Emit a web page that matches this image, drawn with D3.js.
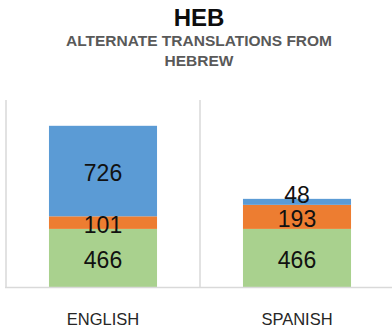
<!DOCTYPE html>
<html>
<head>
<meta charset="utf-8">
<script src="https://cdn.jsdelivr.net/npm/d3@7"></script>
<style>
  html, body { margin: 0; padding: 0; background: #fff; }
  svg { display: block; font-family: "Liberation Sans", Arial, sans-serif; }
</style>
</head>
<body>
<svg id="chart" width="392" height="333"></svg>
<script>
// Categories and stacked series (bottom to top)
const categories = ["ENGLISH", "SPANISH"];
const seriesNames = ["base", "middle", "top"];
const baseValues = [466, 466];
const middleValues = [101, 193];
const topValues = [726, 48];
const seriesColors = ["#A9D18E", "#ED7D31", "#5B9BD5"];
const yMax = 1500;

const titleText = "HEB";
const subtitleLines = ["ALTERNATE TRANSLATIONS FROM", "HEBREW"];

const rows = categories.map((c, i) => ({
  category: c,
  base: baseValues[i],
  middle: middleValues[i],
  top: topValues[i]
}));

const svg = d3.select("#chart");
const plot = { left: 6, right: 394, top: 100, bottom: 287 };

// Titles
svg.append("text")
  .attr("x", 199).attr("y", 26)
  .attr("text-anchor", "middle")
  .attr("font-size", 24).attr("font-weight", "bold")
  .attr("fill", "#0d0d0d")
  .text(titleText);

subtitleLines.forEach((line, i) => {
  svg.append("text")
    .attr("x", 199).attr("y", 46 + i * 20)
    .attr("text-anchor", "middle")
    .attr("font-size", 15.5).attr("font-weight", "bold")
    .attr("fill", "#595959")
    .text(line);
});

// Scales
const xOuter = d3.scaleBand().domain(categories).range([plot.left, plot.right]).padding(0);
const x = d3.scaleBand().domain(categories).range([plot.left, plot.right])
  .paddingInner(0.443).paddingOuter(0.2215);
const y = d3.scaleLinear().domain([0, yMax]).range([plot.bottom, plot.top]);

// Category separators (left axis line and divider between categories)
const separators = categories.map(c => xOuter(c));
svg.append("g").selectAll("line").data(separators).join("line")
  .attr("x1", d => d).attr("x2", d => d)
  .attr("y1", plot.top).attr("y2", plot.bottom)
  .attr("stroke", "#D9D9D9").attr("stroke-width", 1.5);

// Stacked bars
const stack = d3.stack().keys(seriesNames);
const layers = stack(rows);

const gBars = svg.append("g");
layers.forEach((layer, li) => {
  gBars.append("g").attr("fill", seriesColors[li])
    .selectAll("rect").data(layer).join("rect")
    .attr("x", d => x(d.data.category))
    .attr("width", x.bandwidth())
    .attr("y", d => y(d[1]))
    .attr("height", d => y(d[0]) - y(d[1]));
});

// Bottom axis line
svg.append("line")
  .attr("x1", plot.left - 1).attr("x2", plot.right)
  .attr("y1", plot.bottom + 0.5).attr("y2", plot.bottom + 0.5)
  .attr("stroke", "#D9D9D9").attr("stroke-width", 1.5);

// Value labels, centred in each segment; crowded labels are nudged upward
const labelSize = 23;
const minGap = 23.5;
const gLabels = svg.append("g")
  .attr("font-size", labelSize).attr("fill", "#111")
  .attr("text-anchor", "middle");
categories.forEach((c, ci) => {
  let prevCenter = null;
  layers.forEach(layer => {
    const d = layer[ci];
    const value = d[1] - d[0];
    let cy = (y(d[0]) + y(d[1])) / 2;
    if (prevCenter !== null && prevCenter - cy < minGap) cy = prevCenter - minGap;
    prevCenter = cy;
    gLabels.append("text")
      .attr("x", x(c) + x.bandwidth() / 2)
      .attr("y", cy + 10)
      .text(value);
  });
});

// Category labels
svg.append("g").selectAll("text").data(categories).join("text")
  .attr("x", d => x(d) + x.bandwidth() / 2)
  .attr("y", 325)
  .attr("text-anchor", "middle")
  .attr("font-size", 16.5).attr("fill", "#262626")
  .text(d => d);
</script>
</body>
</html>
